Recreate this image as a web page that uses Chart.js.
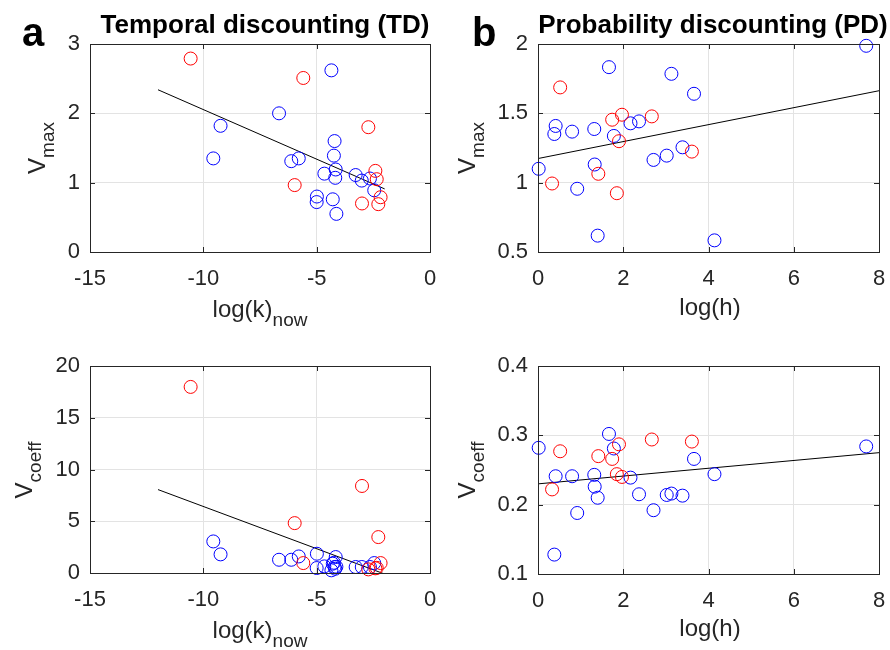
<!DOCTYPE html>
<html>
<head>
<meta charset="utf-8">
<script src="https://cdn.jsdelivr.net/npm/chart.js@4.4.1/dist/chart.umd.min.js"></script>
<style>
  body { margin: 0; background: #fff; }
  #wrap { position: relative; width: 890px; height: 650px; }
  .panel { position: absolute; width: 445px; }
  .top { top: 0; height: 340px; }
  .bottom { top: 325px; height: 325px; }
</style>
</head>
<body>
<div id="wrap">
  <div class="panel top" style="left:0"><canvas id="tdVmax"></canvas></div>
  <div class="panel top" style="left:445px"><canvas id="pdVmax"></canvas></div>
  <div class="panel bottom" style="left:0"><canvas id="tdVcoeff"></canvas></div>
  <div class="panel bottom" style="left:445px"><canvas id="pdVcoeff"></canvas></div>
</div>
<script>
// temporal discounting (TD), red group
const tdRedLogK   = [-10.56, -5.59, -5.97, -2.72, -2.41, -2.35, -3.00, -2.28, -2.18];
const tdRedVmax   = [2.79, 2.51, 0.965, 1.80, 1.17, 1.05, 0.70, 0.69, 0.79];
const tdRedVcoeff = [17.98, 0.96, 4.82, 0.35, 0.45, 0.50, 8.41, 3.47, 0.96];
// TD, blue group
const tdBlueLogK   = [-4.35, -6.66, -9.24, -9.56, -6.12, -5.79, -4.21, -4.24, -4.16, -4.66, -4.18, -3.28, -3.01, -2.65, -2.46, -5.00, -4.99, -4.29, -4.13];
const tdBlueVmax   = [2.62, 2.00, 1.82, 1.35, 1.31, 1.35, 1.60, 1.39, 1.19, 1.13, 1.07, 1.11, 1.03, 1.06, 0.89, 0.72, 0.80, 0.76, 0.55];
const tdBlueVcoeff = [0.26, 1.28, 1.80, 3.05, 1.28, 1.60, 0.58, 0.99, 1.54, 0.64, 0.41, 0.58, 0.58, 0.58, 0.96, 0.48, 1.86, 0.90, 0.60];

// probability discounting (PD), red group
const pdRedLogH   = [0.52, 1.74, 1.97, 2.67, 1.90, 3.61, 1.415, 0.33, 1.85];
const pdRedVmax   = [1.687, 1.454, 1.49, 1.478, 1.299, 1.224, 1.064, 0.994, 0.924];
const pdRedVcoeff = [0.277, 0.266, 0.240, 0.294, 0.287, 0.291, 0.270, 0.222, 0.244];
// PD, blue group
const pdBlueLogH   = [7.70, 1.665, 3.13, 3.66, 0.414, 0.383, 0.80, 1.32, 1.78, 2.17, 2.37, 3.39, 3.02, 2.71, 1.33, 0.016, 0.92, 1.40, 4.14];
const pdBlueVmax   = [1.987, 1.833, 1.785, 1.641, 1.409, 1.351, 1.368, 1.387, 1.337, 1.428, 1.442, 1.255, 1.195, 1.164, 1.131, 1.10, 0.956, 0.618, 0.584];
const pdBlueVcoeff = [0.284, 0.302, 0.216, 0.266, 0.241, 0.128, 0.241, 0.243, 0.281, 0.239, 0.215, 0.213, 0.214, 0.192, 0.226, 0.282, 0.188, 0.210, 0.244];

// regression lines (end points)
const tdFitX = [-12, -2];
const tdVmaxFit = [2.34, 0.91];
const tdVcoeffFit = [8.06, -0.1];
const pdFitX = [0, 8];
const pdVmaxFit = [1.174, 1.663];
const pdVcoeffFit = [0.230, 0.275];

// ticks
const tdXTicks = [-15, -10, -5, 0];
const tdXTickLabels = ['-15', '-10', '-5', '0'];
const pdXTicks = [0, 2, 4, 6, 8];
const pdXTickLabels = ['0', '2', '4', '6', '8'];
const tdVmaxTicks = [0, 1, 2, 3];
const tdVmaxTickLabels = ['0', '1', '2', '3'];
const pdVmaxTicks = [0.5, 1, 1.5, 2];
const pdVmaxTickLabels = ['0.5', '1', '1.5', '2'];
const tdVcoeffTicks = [0, 5, 10, 15, 20];
const tdVcoeffTickLabels = ['0', '5', '10', '15', '20'];
const pdVcoeffTicks = [0.1, 0.2, 0.3, 0.4];
const pdVcoeffTickLabels = ['0.1', '0.2', '0.3', '0.4'];

const FONT = '"Liberation Sans", Arial, Helvetica, sans-serif';
const INK = '#262626';

const pts = (xs, ys) => xs.map((x, i) => ({ x: x, y: ys[i] }));

// draws the MATLAB style box, inward tick marks and all the texts
const matlabLook = {
  id: 'matlabLook',
  afterDraw(chart, args, opts) {
    const { ctx, chartArea: { left, right, top, bottom } } = chart;
    const xs = chart.scales.x, ys = chart.scales.y;
    ctx.save();
    ctx.strokeStyle = INK;
    ctx.lineWidth = 1;
    ctx.strokeRect(Math.round(left) + 0.5, Math.round(top) + 0.5, Math.round(right - left), Math.round(bottom - top));
    ctx.beginPath();
    const tl = 5;
    xs.ticks.forEach(t => {
      const px = Math.round(xs.getPixelForValue(t.value)) + 0.5;
      ctx.moveTo(px, bottom); ctx.lineTo(px, bottom - tl);
      ctx.moveTo(px, top); ctx.lineTo(px, top + tl);
    });
    ys.ticks.forEach(t => {
      const py = Math.round(ys.getPixelForValue(t.value)) + 0.5;
      ctx.moveTo(left, py); ctx.lineTo(left + tl, py);
      ctx.moveTo(right, py); ctx.lineTo(right - tl, py);
    });
    ctx.stroke();

    ctx.fillStyle = '#000';
    ctx.textBaseline = 'alphabetic';
    if (opts.letter) {
      ctx.font = 'bold 40px ' + FONT;
      ctx.textAlign = 'left';
      ctx.fillText(opts.letter[0], opts.letter[1], opts.letter[2]);
    }
    if (opts.title) {
      ctx.font = 'bold 26px ' + FONT;
      ctx.textAlign = 'center';
      ctx.fillText(opts.title[0], opts.title[1], opts.title[2]);
    }
    ctx.fillStyle = INK;
    ctx.textAlign = 'left';
    const subText = (main, sub, cx, base) => {
      ctx.font = '24px ' + FONT;
      const w1 = ctx.measureText(main).width;
      ctx.font = '19px ' + FONT;
      const w2 = sub ? ctx.measureText(sub).width : 0;
      const x0 = cx - (w1 + w2) / 2;
      ctx.font = '24px ' + FONT;
      ctx.fillText(main, x0, base);
      if (sub) {
        ctx.font = '19px ' + FONT;
        ctx.fillText(sub, x0 + w1, base + 9);
      }
    };
    const xt = opts.xTitle;
    subText(xt[0], xt[1], xt[2], xt[3]);
    const yt = opts.yTitle;
    ctx.save();
    ctx.translate(yt[2], yt[3]);
    ctx.rotate(-Math.PI / 2);
    subText(yt[0], yt[1], 0, 0);
    ctx.restore();
    ctx.restore();
  }
};

const makePanel = (id, p) => {
  const axis = (min, max, ticks, labels, pad) => ({
    type: 'linear',
    min: min,
    max: max,
    afterBuildTicks: s => { s.ticks = ticks.map(v => ({ value: v })); },
    ticks: {
      padding: pad,
      color: INK,
      font: { family: FONT, size: 22 },
      maxRotation: 0,
      autoSkip: false,
      callback: (v, i) => labels[i]
    },
    grid: { color: '#e3e3e3', lineWidth: 1, drawTicks: false },
    border: { display: false }
  });
  const xAxis = axis(p.xMin, p.xMax, p.xTicks, p.xLabels, 14);
  xAxis.afterFit = s => { s.height = p.xH; s.paddingLeft = 0; s.paddingRight = 0; };
  const yAxis = axis(p.yMin, p.yMax, p.yTicks, p.yLabels, 10);
  yAxis.afterFit = s => { s.width = p.yW; s.paddingTop = 0; s.paddingBottom = 0; };

  const circles = (data, color) => ({
    type: 'scatter',
    data: data,
    pointStyle: 'circle',
    pointRadius: 6.5,
    pointBorderWidth: 1,
    borderColor: color,
    pointBackgroundColor: 'rgba(0,0,0,0)',
    backgroundColor: 'rgba(0,0,0,0)',
    clip: false
  });

  return new Chart(document.getElementById(id), {
    data: {
      datasets: [
        circles(p.red, '#ff0000'),
        circles(p.blue, '#0000ff'),
        {
          type: 'line',
          data: p.fit,
          borderColor: '#000',
          borderWidth: 1,
          pointRadius: 0,
          fill: false
        }
      ]
    },
    options: {
      responsive: true,
      maintainAspectRatio: false,
      animation: false,
      layout: { padding: p.pad },
      scales: { x: xAxis, y: yAxis },
      plugins: {
        legend: { display: false },
        tooltip: { enabled: false },
        matlabLook: p.texts
      }
    },
    plugins: [matlabLook]
  });
};

makePanel('tdVmax', {
  red: pts(tdRedLogK, tdRedVmax), blue: pts(tdBlueLogK, tdBlueVmax), fit: pts(tdFitX, tdVmaxFit),
  xMin: -15, xMax: 0, xTicks: tdXTicks, xLabels: tdXTickLabels,
  yMin: 0, yMax: 3, yTicks: tdVmaxTicks, yLabels: tdVmaxTickLabels,
  pad: { left: 0, top: 44, right: 15, bottom: 0 }, yW: 90, xH: 88,
  texts: { letter: ['a', 22, 46], title: ['Temporal discounting (TD)', 265, 33],
           xTitle: ['log(k)', 'now', 260, 317], yTitle: ['V', 'max', 45, 148] }
});

makePanel('pdVmax', {
  red: pts(pdRedLogH, pdRedVmax), blue: pts(pdBlueLogH, pdBlueVmax), fit: pts(pdFitX, pdVmaxFit),
  xMin: 0, xMax: 8, xTicks: pdXTicks, xLabels: pdXTickLabels,
  yMin: 0.5, yMax: 2, yTicks: pdVmaxTicks, yLabels: pdVmaxTickLabels,
  pad: { left: 0, top: 44, right: 11, bottom: 0 }, yW: 93, xH: 88,
  texts: { letter: ['b', 27, 46], title: ['Probability discounting (PD)', 268, 33],
           xTitle: ['log(h)', '', 265, 315], yTitle: ['V', 'max', 30, 148] }
});

makePanel('tdVcoeff', {
  red: pts(tdRedLogK, tdRedVcoeff), blue: pts(tdBlueLogK, tdBlueVcoeff), fit: pts(tdFitX, tdVcoeffFit),
  xMin: -15, xMax: 0, xTicks: tdXTicks, xLabels: tdXTickLabels,
  yMin: 0, yMax: 20, yTicks: tdVcoeffTicks, yLabels: tdVcoeffTickLabels,
  pad: { left: 0, top: 41, right: 15, bottom: 0 }, yW: 90, xH: 77,
  texts: { xTitle: ['log(k)', 'now', 260, 313], yTitle: ['V', 'coeff', 32, 145] }
});

makePanel('pdVcoeff', {
  red: pts(pdRedLogH, pdRedVcoeff), blue: pts(pdBlueLogH, pdBlueVcoeff), fit: pts(pdFitX, pdVcoeffFit),
  xMin: 0, xMax: 8, xTicks: pdXTicks, xLabels: pdXTickLabels,
  yMin: 0.1, yMax: 0.4, yTicks: pdVcoeffTicks, yLabels: pdVcoeffTickLabels,
  pad: { left: 0, top: 41, right: 11, bottom: 0 }, yW: 93, xH: 76,
  texts: { xTitle: ['log(h)', '', 265, 311], yTitle: ['V', 'coeff', 30, 145] }
});
</script>
</body>
</html>
